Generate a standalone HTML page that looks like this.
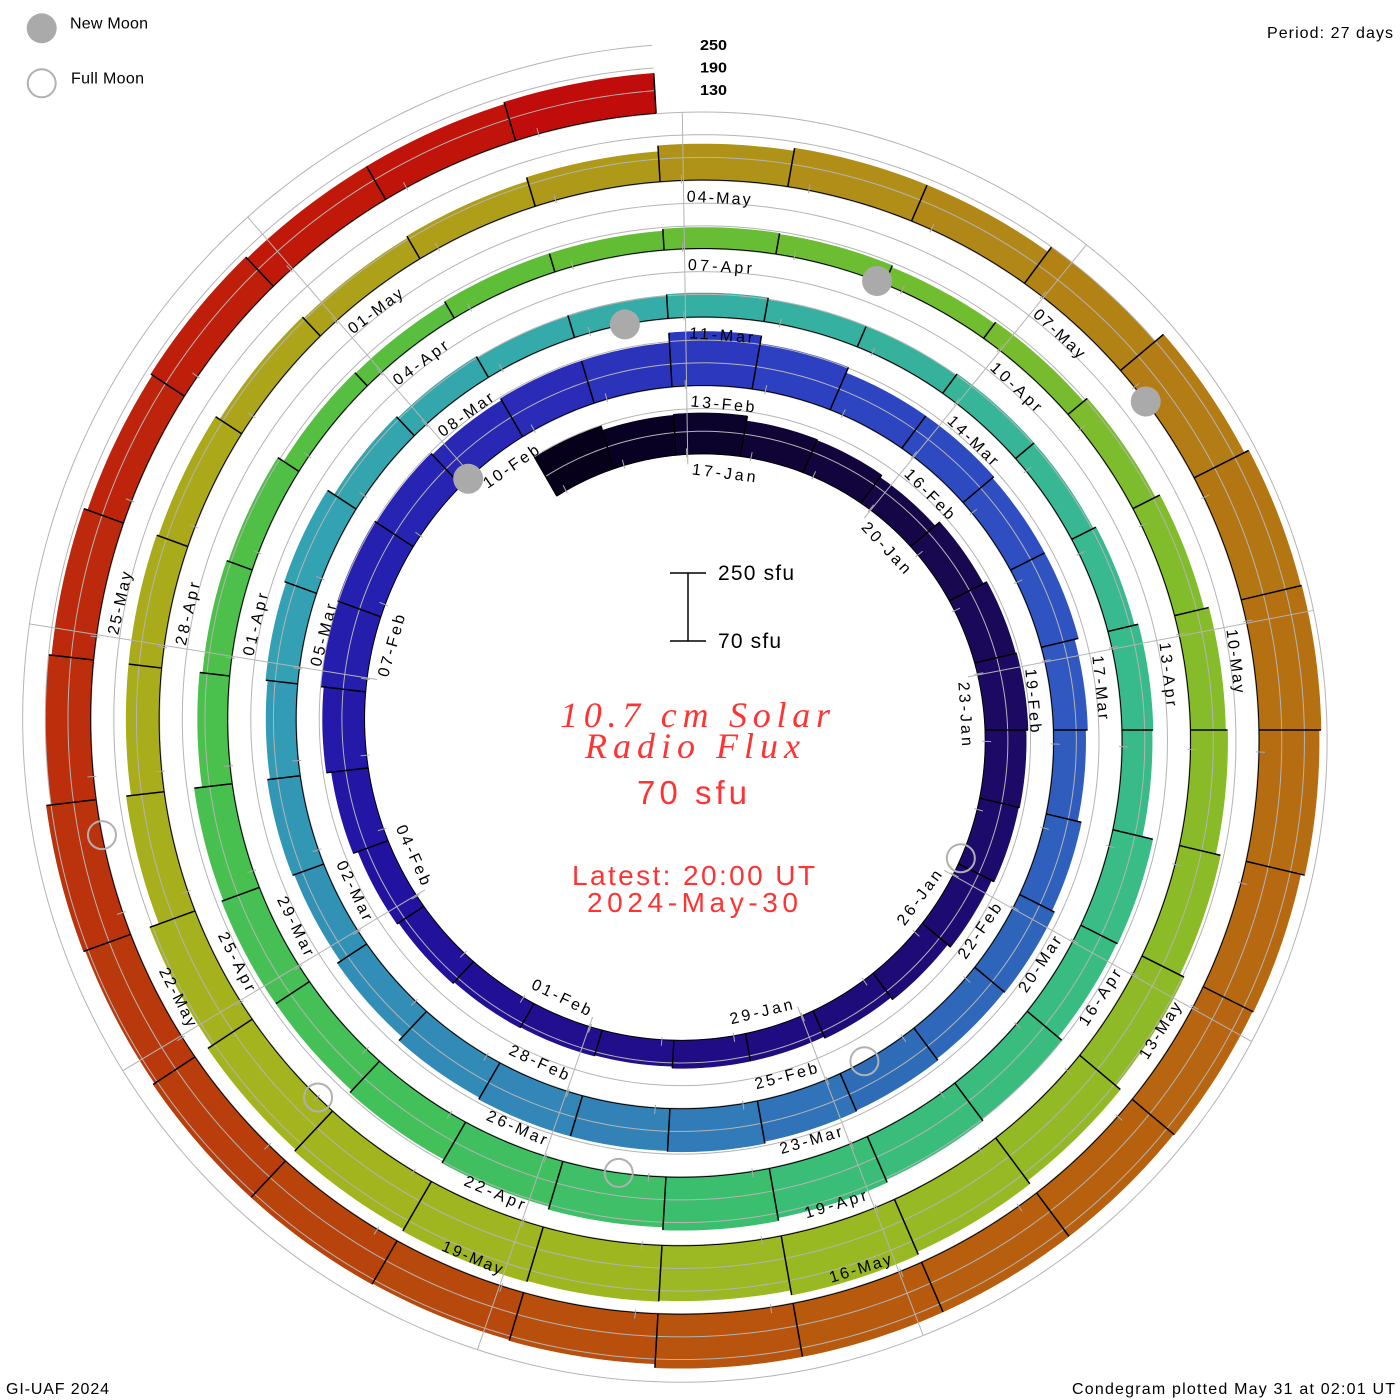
<!DOCTYPE html>
<html>
<head>
<meta charset="utf-8">
<style>
html,body{margin:0;padding:0;background:#fff;}
svg{display:block;}
</style>
</head>
<body>
<svg id="c" width="1400" height="1400" viewBox="0 0 1400 1400" xmlns="http://www.w3.org/2000/svg">
<rect width="1400" height="1400" fill="#ffffff"/>
<g id="dyn"></g>
<g id="labels" font-family="Liberation Sans, sans-serif" font-size="16" fill="#000" text-anchor="middle">
<text>17-Jan</text><text>20-Jan</text><text>23-Jan</text><text>26-Jan</text><text>29-Jan</text>
<text>01-Feb</text><text>04-Feb</text><text>07-Feb</text><text>10-Feb</text><text>13-Feb</text>
<text>16-Feb</text><text>19-Feb</text><text>22-Feb</text><text>25-Feb</text><text>28-Feb</text>
<text>02-Mar</text><text>05-Mar</text><text>08-Mar</text><text>11-Mar</text><text>14-Mar</text>
<text>17-Mar</text><text>20-Mar</text><text>23-Mar</text><text>26-Mar</text><text>29-Mar</text>
<text>01-Apr</text><text>04-Apr</text><text>07-Apr</text><text>10-Apr</text><text>13-Apr</text>
<text>16-Apr</text><text>19-Apr</text><text>22-Apr</text><text>25-Apr</text><text>28-Apr</text>
<text>01-May</text><text>04-May</text><text>07-May</text><text>10-May</text><text>13-May</text>
<text>16-May</text><text>19-May</text><text>22-May</text><text>25-May</text>
</g>

<!-- legend -->
<circle cx="41.7" cy="28.3" r="15" fill="#aaaaaa"/>
<circle cx="41.7" cy="83.3" r="14" fill="none" stroke="#b0b0b0" stroke-width="2"/>
<g font-family="Liberation Sans, sans-serif" font-size="16" fill="#000">
<text x="70" y="28.3" textLength="78" lengthAdjust="spacing">New Moon</text>
<text x="71" y="83.5" textLength="73" lengthAdjust="spacing">Full Moon</text>
<text x="1267" y="38" textLength="126" lengthAdjust="spacing">Period: 27 days</text>
<text x="6" y="1394" textLength="103" lengthAdjust="spacing">GI-UAF 2024</text>
<text x="1072" y="1394" textLength="323" lengthAdjust="spacing">Condegram plotted May 31 at 02:01 UT</text>
</g>
<g font-family="Liberation Sans, sans-serif" font-size="15" font-weight="bold" fill="#000">
<text x="700" y="50" textLength="27" lengthAdjust="spacingAndGlyphs">250</text>
<text x="700" y="72.7" textLength="27" lengthAdjust="spacingAndGlyphs">190</text>
<text x="700" y="95" textLength="27" lengthAdjust="spacingAndGlyphs">130</text>
</g>

<!-- scale bar -->
<g stroke="#000" stroke-width="1.5">
<line x1="688" y1="573" x2="688" y2="641"/>
<line x1="670" y1="573" x2="706" y2="573"/>
<line x1="670" y1="641" x2="706" y2="641"/>
</g>
<g font-family="Liberation Sans, sans-serif" font-size="21" fill="#000">
<text x="718" y="580" textLength="76" lengthAdjust="spacing">250 sfu</text>
<text x="718" y="648" textLength="63" lengthAdjust="spacing">70 sfu</text>
</g>

<!-- center title -->
<g fill="#ff3333">
<text x="560" y="727" font-family="Liberation Serif, serif" font-style="italic" font-size="36" textLength="270" lengthAdjust="spacing">10.7 cm Solar</text>
<text x="585" y="758" font-family="Liberation Serif, serif" font-style="italic" font-size="36" textLength="215" lengthAdjust="spacing">Radio Flux</text>
<text x="637" y="804" font-family="Liberation Sans, sans-serif" font-size="33" textLength="110" lengthAdjust="spacing">70 sfu</text>
<text x="572" y="885" font-family="Liberation Sans, sans-serif" font-size="28" textLength="243" lengthAdjust="spacing">Latest: 20:00 UT</text>
<text x="587" y="912" font-family="Liberation Sans, sans-serif" font-size="28" textLength="211" lengthAdjust="spacing">2024-May-30</text>
</g>
</svg>
<script>
(function(){
var cx=692, cy=730, R0=270.17, K=68.5/360, S=68/180, DAY=360/27, PHIEND=137*DAY;
var H=[45,40,41,36,35,32,38,42,43,41,40,37,33,30,28,28,26,27,28,30,32,37,42,45,46,44,42,
44,44,54,46,40,40,38,38,34,32,36,39,38,40,41,43,42,42,40,35,31,33,30,32,34,26,24,
22,23,24,22,22,24,24,27,31,30,41,40,45,47,50,53,50,47,43,40,40,38,30,27,25,18,17,
19,19,21,20,18,20,25,30,35,37,42,47,53,57,60,55,56,57,55,53,48,38,33,33,31,26,24,
26,30,36,39,39,45,56,61,62,60,56,55,54,54,54,54,50,49,50,50,48,50,45,42,38,40,38,
38,40];
function rb(p){return R0+K*p;}
function P(p,r){var a=(330+p)*Math.PI/180;return [cx+r*Math.sin(a), cy-r*Math.cos(a)];}
function f(v){return v.toFixed(2);}
var anchors=[[0,'#06001a'],[4,'#12053e'],[8,'#1c0a62'],[14,'#1f0c80'],[20,'#2212a0'],[24,'#2620b0'],[27,'#2a2cb8'],[30,'#2d40c2'],[35,'#3058c0'],[40,'#2f6cb8'],[43,'#3282b8'],[47,'#3292b6'],[50,'#33a0b4'],[55,'#35aca8'],[62,'#38bb8c'],[68,'#3abd76'],[72,'#42c05a'],[77,'#4cc04a'],[82,'#62bd34'],[89,'#86bc2a'],[96,'#9cb822'],[100,'#a4b41e'],[104,'#aaab1a'],[108,'#ae9e18'],[111,'#b08e18'],[116,'#b57011'],[122,'#b85a0e'],[126,'#b8430b'],[130,'#bc2e0c'],[134,'#c0190a'],[136,'#c00c0a']];
function hx(c){return [parseInt(c.substr(1,2),16),parseInt(c.substr(3,2),16),parseInt(c.substr(5,2),16)];}
function col(d){
  for(var i=0;i<anchors.length-1;i++){
    var a=anchors[i],b=anchors[i+1];
    if(d>=a[0]&&d<=b[0]){
      var t=(d-a[0])/(b[0]-a[0]);var A=hx(a[1]),B=hx(b[1]);
      return 'rgb('+Math.round(A[0]+(B[0]-A[0])*t)+','+Math.round(A[1]+(B[1]-A[1])*t)+','+Math.round(A[2]+(B[2]-A[2])*t)+')';
    }
  }
  return anchors[anchors.length-1][1];
}
var s='';
for(var d=0;d<137;d++){
  var p0=d*DAY,p1=(d+1)*DAY,n=14,out=[],inn=[];
  for(var i=0;i<=n;i++){
    var p=p0+(p1-p0)*i/n;
    var o=P(p,rb(p)+H[d]);var q=P(p,rb(p));
    out.push(f(o[0])+','+f(o[1]));inn.unshift(f(q[0])+','+f(q[1]));
  }
  var c=col(d);
  s+='<polygon points="'+out.concat(inn).join(' ')+'" fill="'+c+'" stroke="'+c+'" stroke-width="0.6"/>';
}
function spiral(off){
  var pts=[];
  for(var p=0;p<PHIEND;p+=1){var q=P(p,rb(p)+off);pts.push(f(q[0])+','+f(q[1]));}
  var q2=P(PHIEND,rb(PHIEND)+off);pts.push(f(q2[0])+','+f(q2[1]));
  return pts.join(' ');
}
[60,120,180].forEach(function(L){
  s+='<polyline points="'+spiral(L*S)+'" fill="none" stroke="#b4b4b4" stroke-width="1"/>';
});
s+='<polyline points="'+spiral(0)+'" fill="none" stroke="#000" stroke-width="1"/>';
for(var k=0;k<9;k++){
  var a=-0.9+40*k;
  var ph0=(((a-330)%360)+360)%360;
  var last=ph0;while(last+360<=PHIEND)last+=360;
  var A1=P(ph0,rb(ph0)-10),A2=P(ph0,rb(last)+68);
  s+='<line x1="'+f(A1[0])+'" y1="'+f(A1[1])+'" x2="'+f(A2[0])+'" y2="'+f(A2[1])+'" stroke="#b4b4b4" stroke-width="1"/>';
}
for(var nn=1;nn<=137;nn++){
  var pt=DAY*(nn-0.8333);
  if(pt<0||pt>PHIEND)continue;
  var T1=P(pt,rb(pt)-3),T2=P(pt,rb(pt)+6);
  s+='<line x1="'+f(T1[0])+'" y1="'+f(T1[1])+'" x2="'+f(T2[0])+'" y2="'+f(T2[1])+'" stroke="#aaaaaa" stroke-width="1"/>';
}
for(var d2=0;d2<=137;d2++){
  var pd=d2*DAY;
  var h=Math.max(d2>0?H[d2-1]:0,d2<137?H[d2]:0);
  var D1=P(pd,rb(pd)),D2=P(pd,rb(pd)+h);
  s+='<line x1="'+f(D1[0])+'" y1="'+f(D1[1])+'" x2="'+f(D2[0])+'" y2="'+f(D2[1])+'" stroke="#000" stroke-width="1.5"/>';
}
[348.3,740.6,1132.4,1524.1].forEach(function(p){
  var m=P(p,rb(p));
  s+='<circle cx="'+f(m[0])+'" cy="'+f(m[1])+'" r="15" fill="#aaaaaa"/>';
});
[145.5,542.5,939.4,1335.5,1729.9].forEach(function(p){
  var m=P(p,rb(p));
  s+='<circle cx="'+f(m[0])+'" cy="'+f(m[1])+'" r="14" fill="none" stroke="#b0b0b0" stroke-width="2"/>';
});
document.getElementById('dyn').innerHTML=s;
var off={Jan:-14,Feb:17,Mar:46,Apr:77,May:107};
var ts=document.getElementById('labels').getElementsByTagName('text');
for(var j=0;j<ts.length;j++){
  var t=ts[j];var mm=t.textContent.match(/(\d+)-(\w+)/);
  var n2=parseInt(mm[1],10)+off[mm[2]];
  var p00=DAY*(n2-0.8333);
  var r=rb(p00)-16.5;
  var ang=330+p00+37/r*180/Math.PI;
  var th=((ang%360)+360)%360;
  var flip=(th>90&&th<270);
  t.setAttribute('transform','translate('+cx+','+cy+') rotate('+f(th)+') translate(0,'+f(-r)+')'+(flip?' rotate(180)':''));
  t.setAttribute('dy','0.35em');
  t.setAttribute('textLength','64');
  t.setAttribute('lengthAdjust','spacing');
}
})();
</script>
</body>
</html>
